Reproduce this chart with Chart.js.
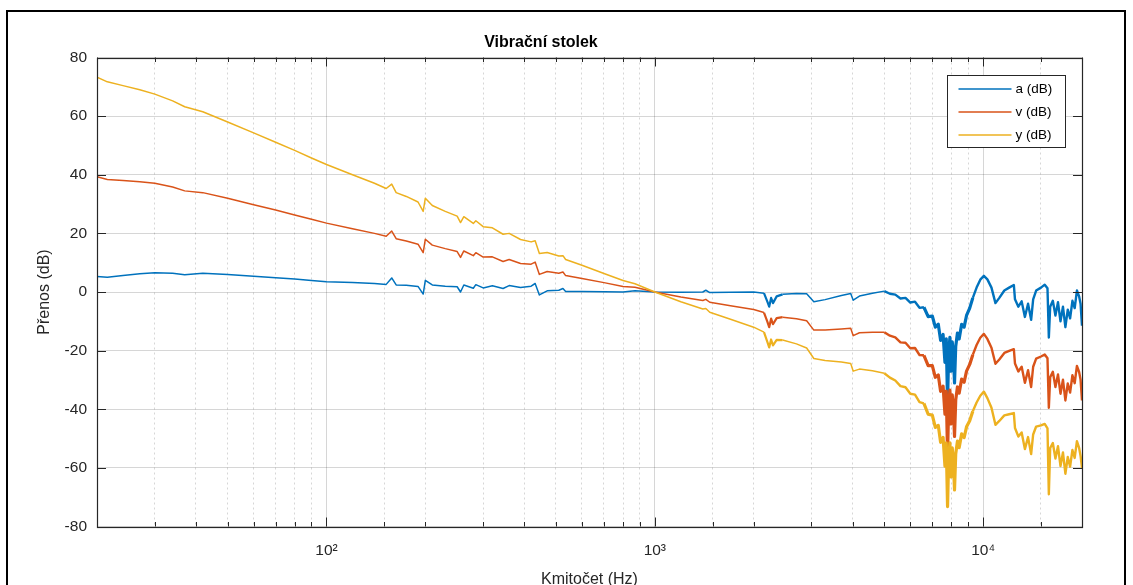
<!DOCTYPE html>
<html>
<head>
<meta charset="utf-8">
<script src="https://cdn.jsdelivr.net/npm/chart.js@4"></script>
<style>
  html, body { margin: 0; padding: 0; background: #fff; overflow: hidden; }
  #wrap { position: relative; width: 1133px; height: 585px; }
  #frame { position: absolute; left: 6px; top: 10px; width: 1120px; height: 640px; border: 2px solid #000; box-sizing: border-box; }
  canvas { position: absolute; left: 0; top: 0; }
</style>
</head>
<body>
<div id="wrap">
  <div id="frame"></div>
  <canvas id="vibChart" width="1133" height="600"></canvas>
</div>
<script>
// frekvence (Hz) - spolecna osa pro vsechny tri prubehy
const freqHz = [
  20, 21.5, 24, 27, 30, 34, 37, 42, 50, 60, 70, 80, 90,
  100, 120, 140, 152, 158, 163, 175, 190, 197, 200, 210, 230, 250, 256, 262, 280, 285,
  300, 320, 345, 360, 390, 420, 432, 445, 470, 510, 525, 535, 600, 700, 800, 870,
  1000, 1200, 1400, 1430, 1470, 1700, 2000, 2150, 2200, 2230, 2260, 2290, 2350, 2450,
  2700, 2900, 3050, 3300, 3700, 3950, 4020, 4200, 4600,
  5000, 5200, 5400, 5600, 5800, 6000, 6200, 6400, 6600, 6800, 7000, 7150, 7300, 7420,
  7550, 7650, 7720, 7790, 7850, 7920, 7980, 8050, 8120, 8180, 8250, 8350, 8450, 8600,
  8750, 8900, 9100, 9300, 9550, 9800, 10050, 10300, 10600, 10900, 11200, 11600, 12000,
  12400, 12500, 12800, 13100, 13400, 13700, 14000, 14200, 14500, 15000, 15400, 15700,
  15850, 16000, 16300, 16600, 16900, 17200, 17500, 17800, 18100, 18400, 18700, 19000,
  19300, 19600, 19800, 20000
];

const aDb = [
  5.3, 5.0, 5.6, 6.2, 6.6, 6.4, 5.9, 6.4, 6.0, 5.4, 4.9, 4.4, 3.9,
  3.5, 3.2, 2.9, 2.6, 4.8, 2.4, 2.3, 1.9, -0.7, 4.0, 2.4, 2.0, 1.8, 0.0, 2.4, 1.3, 2.5,
  1.4, 2.1, 1.2, 2.2, 1.5, 2.0, 2.9, -1.0, 0.4, 0.6, 1.2, 0.2, 0.2, 0.1, 0.0, 0.4,
  0.0, -0.1, 0.0, 0.6, -0.2, -0.1, 0.0, -0.4, -3.2, -5.0, -2.0, -3.8, -1.5, -0.8,
  -0.5, -0.6, -3.3, -2.6, -1.2, -0.5, -2.8, -1.4, -0.4,
  0.3, -0.6, -0.9, -2.2, -2.0, -3.6, -3.3, -5.4, -5.2, -8.4, -8.2, -12.0, -11.0, -16.5,
  -14.5, -24.0, -16.0, -37.5, -21.0, -15.5, -27.0, -17.0, -22.0, -31.0, -18.5, -14.0, -16.0, -11.0,
  -12.0, -8.0, -5.5, -2.0, 1.5, 4.2, 5.5, 4.3, 1.5, -3.8, -2.0, 0.5, 1.5,
  2.4, -2.5, -5.0, -3.2, -8.5, -4.0, -9.5, -2.5, 0.5, 1.5, 2.5, 1.3,
  -15.5, -5.0, -3.0, -8.0, -3.5, -10.0, -5.0, -12.0, -6.0, -9.0, -3.0, -5.5,
  0.5, -1.5, -4.0, -11.5
];

const vDb = [
  39.3, 38.4, 38.0, 37.6, 37.1, 35.8, 34.5, 33.9, 32.0, 29.8, 28.0, 26.3, 24.8,
  23.5, 21.6, 20.0, 19.0, 20.8, 18.2, 17.4, 16.3, 13.4, 18.0, 16.0, 14.8, 13.8, 11.8, 14.0, 12.4, 13.4,
  11.9, 12.0, 10.4, 11.1, 9.7, 9.5, 10.2, 6.0, 7.0, 6.4, 6.8, 5.6, 4.6, 3.2, 1.9, 1.6,
  0.0, -1.7, -2.9, -2.5, -3.5, -4.7, -6.0, -7.0, -10.0, -12.0, -9.1, -11.0, -8.9, -8.6,
  -9.1, -9.8, -13.0, -13.0, -12.6, -12.4, -14.9, -13.9, -13.7,
  -13.7, -14.9, -15.5, -17.2, -17.3, -19.2, -19.1, -21.5, -21.6, -25.1, -25.1, -29.1, -28.3, -33.9,
  -32.1, -41.7, -33.8, -55.3, -38.9, -33.5, -45.0, -35.1, -40.2, -49.3, -36.8, -32.4, -34.5, -29.7,
  -30.8, -27.0, -24.7, -21.4, -18.1, -15.6, -14.3, -16.0, -19.0, -24.5, -23.0, -20.8, -20.1,
  -19.5, -24.4, -27.1, -25.5, -31.0, -26.7, -32.4, -25.5, -22.7, -22.0, -21.3, -22.6,
  -39.5, -29.1, -27.2, -32.4, -28.1, -34.7, -29.9, -37.0, -31.2, -34.3, -28.4, -31.1,
  -25.2, -27.3, -29.9, -37.0
];

const yDb = [
  73.3, 71.7, 70.4, 69.0, 67.5, 65.2, 63.2, 61.5, 58.0, 54.3, 51.1, 48.3, 45.7,
  43.5, 40.0, 37.1, 35.3, 36.8, 33.9, 32.6, 30.7, 27.5, 32.0, 29.5, 27.5, 25.9, 23.7, 25.7, 23.4, 24.3,
  22.3, 21.9, 19.7, 20.0, 17.9, 17.1, 17.5, 13.1, 13.5, 12.3, 12.4, 11.1, 9.1, 6.3, 3.9, 2.8,
  0.0, -3.3, -5.8, -5.6, -6.9, -9.3, -12.0, -13.7, -16.9, -18.9, -16.2, -18.2, -16.3, -16.4,
  -17.7, -19.1, -22.7, -23.4, -23.9, -24.4, -27.0, -26.3, -26.9,
  -27.7, -29.2, -30.2, -32.1, -32.5, -34.7, -35.0, -37.6, -38.0, -41.7, -42.0, -46.2, -45.5, -51.3,
  -49.6, -59.4, -51.5, -73.2, -56.8, -51.5, -63.1, -53.2, -58.4, -67.5, -55.2, -50.9, -53.1, -48.4,
  -49.7, -46.0, -43.9, -40.7, -37.7, -35.4, -34.0, -36.2, -39.5, -45.3, -44.0, -42.1, -41.7,
  -41.3, -46.4, -49.3, -47.9, -53.6, -49.5, -55.3, -48.6, -45.9, -45.5, -45.0, -46.5,
  -69.0, -53.2, -51.5, -56.8, -52.6, -59.4, -54.7, -62.0, -56.3, -59.6, -53.9, -56.6,
  -50.9, -53.2, -55.9, -60.0
];

const yTicks = [-80, -60, -40, -20, 0, 20, 40, 60, 80];
const decadeLabels = { 100: '10²', 1000: '10³', 10000: '10⁴' };

const FONT = "'Liberation Sans', Arial, Helvetica, sans-serif";
const AXIS_COLOR = '#262626';

function pairs(values) {
  return freqHz.map((f, i) => ({ x: f, y: values[i] }));
}

function isDecade(v) {
  const l = Math.log10(v);
  return Math.abs(l - Math.round(l)) < 1e-9;
}

// sum v merenych datech je nad 5 kHz hustsi -> silnejsi cara
function segWidth(c) {
  const f = c.p0.parsed.x;
  if (f >= 6500 && f < 9300) return 3.2;
  if (f >= 5000) return 2.4;
  if (f >= 2100 && f < 2400) return 2.2;
  return 1.5;
}

// ramecek os, vnitrni carky (styl MATLAB) a legenda uvnitr grafu
const matlabAxes = {
  id: 'matlabAxes',
  afterDraw(chart) {
    const { ctx, chartArea: ca, scales } = chart;
    const xs = scales.x, ys = scales.y;
    ctx.save();
    ctx.strokeStyle = AXIS_COLOR;
    ctx.lineWidth = 1;

    ctx.beginPath();
    yTicks.forEach(v => {
      const py = Math.round(ys.getPixelForValue(v)) + 0.5;
      ctx.moveTo(ca.left, py); ctx.lineTo(ca.left + 9, py);
      ctx.moveTo(ca.right, py); ctx.lineTo(ca.right - 9, py);
    });
    xs.ticks.forEach(t => {
      const len = isDecade(t.value) ? 9 : 4.5;
      const px = Math.round(xs.getPixelForValue(t.value)) + 0.5;
      ctx.moveTo(px, ca.bottom); ctx.lineTo(px, ca.bottom - len);
      ctx.moveTo(px, ca.top); ctx.lineTo(px, ca.top + len);
    });
    ctx.stroke();

    ctx.lineWidth = 1.2;
    ctx.strokeRect(Math.round(ca.left) + 0.5, Math.round(ca.top) + 0.5,
      Math.round(ca.right - ca.left), Math.round(ca.bottom - ca.top));

    // legenda
    const boxW = 118, boxH = 72;
    const bx = Math.round(ca.right - 17 - boxW) + 0.5;
    const by = Math.round(ca.top + 17) + 0.5;
    ctx.fillStyle = '#fff';
    ctx.fillRect(bx, by, boxW, boxH);
    ctx.strokeStyle = AXIS_COLOR;
    ctx.lineWidth = 1;
    ctx.strokeRect(bx, by, boxW, boxH);
    ctx.font = '13.5px ' + FONT;
    ctx.textBaseline = 'middle';
    ctx.textAlign = 'left';
    chart.data.datasets.forEach((ds, i) => {
      const ly = by + 13.5 + i * 23;
      ctx.strokeStyle = ds.borderColor;
      ctx.lineWidth = 1.5;
      ctx.beginPath();
      ctx.moveTo(bx + 11, ly); ctx.lineTo(bx + 64, ly);
      ctx.stroke();
      ctx.fillStyle = '#000';
      ctx.fillText(ds.label, bx + 68, ly);
    });
    ctx.restore();
  }
};

const ctx = document.getElementById('vibChart').getContext('2d');
const vibChart = new Chart(ctx, {
  type: 'line',
  data: {
    datasets: [
      { label: 'a (dB)', data: pairs(aDb), borderColor: '#0072BD', order: 3 },
      { label: 'v (dB)', data: pairs(vDb), borderColor: '#D95319', order: 2 },
      { label: 'y (dB)', data: pairs(yDb), borderColor: '#EDB120', order: 1 }
    ]
  },
  options: {
    responsive: false,
    animation: false,
    elements: {
      line: { borderWidth: 1.5, tension: 0, fill: false, borderJoinStyle: 'round' },
      point: { radius: 0, hoverRadius: 0 }
    },
    datasets: {
      line: { segment: { borderWidth: segWidth } }
    },
    layout: { padding: { left: 0, right: 51, top: 0, bottom: 0 } },
    plugins: {
      legend: { display: false },
      tooltip: { enabled: false },
      title: {
        display: true,
        text: 'Vibrační stolek',
        color: '#000',
        font: { family: FONT, size: 16, weight: 'bold' },
        padding: { top: 33, bottom: 5.3 }
      }
    },
    scales: {
      x: {
        type: 'logarithmic',
        min: 20,
        max: 20000,
        afterFit(scale) { scale.height = 73.5; },
        grid: {
          drawTicks: false,
          color: 'rgba(0,0,0,0.16)',
          lineWidth: 1
        },
        border: {
          display: false,
          dash: c => (c.tick && isDecade(c.tick.value)) ? [] : [2, 3]
        },
        ticks: {
          autoSkip: false,
          maxRotation: 0,
          padding: 14.5,
          color: AXIS_COLOR,
          font: { family: FONT, size: 15.5 },
          callback: v => decadeLabels[v] || ''
        },
        title: {
          display: true,
          text: 'Kmitočet (Hz)',
          color: AXIS_COLOR,
          font: { family: FONT, size: 16 },
          padding: { top: 0, bottom: 10.4 }
        }
      },
      y: {
        min: -80,
        max: 80,
        afterFit(scale) { scale.width = 97; },
        afterBuildTicks(scale) { scale.ticks = yTicks.map(v => ({ value: v })); },
        grid: {
          drawTicks: false,
          color: 'rgba(0,0,0,0.16)',
          lineWidth: 1
        },
        border: { display: false },
        ticks: {
          padding: 10,
          color: AXIS_COLOR,
          font: { family: FONT, size: 15.5 }
        },
        title: {
          display: true,
          text: 'Přenos (dB)',
          color: AXIS_COLOR,
          font: { family: FONT, size: 16 },
          padding: { top: 35.4, bottom: 0 }
        }
      }
    }
  },
  plugins: [matlabAxes]
});
</script>
</body>
</html>
